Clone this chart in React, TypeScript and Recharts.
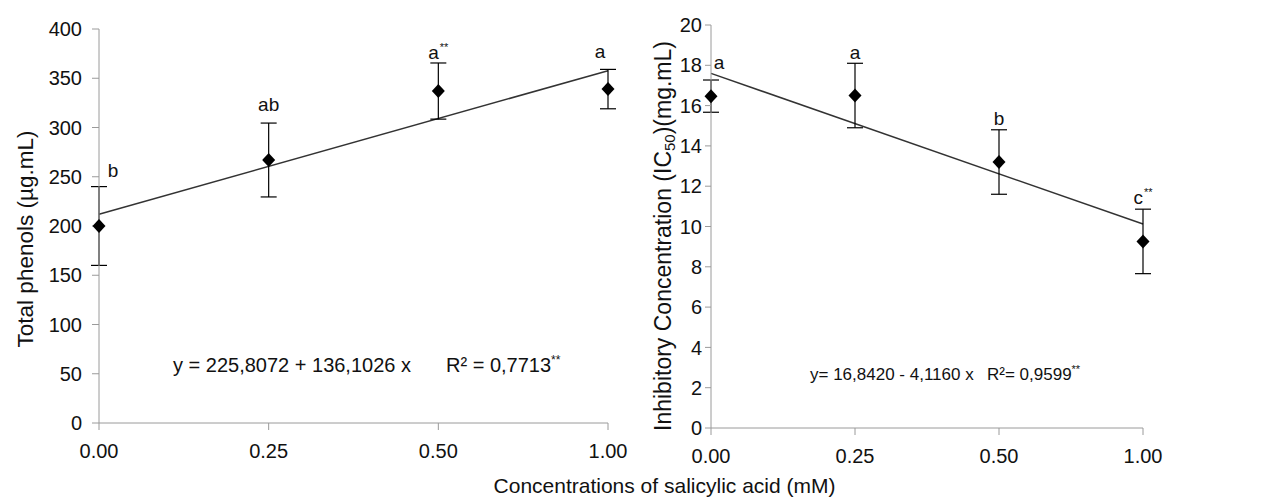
import React from 'react';
import {
  ComposedChart,
  XAxis,
  YAxis,
  Scatter,
  ErrorBar,
  ReferenceLine,
  ReferenceDot,
} from 'recharts';

// salicylic acid doses (mM), plotted as evenly spaced categories
const concentrations = ['0.00', '0.25', '0.50', '1.00'];

// left panel: total phenols
const phenolMeans = [200, 267, 337, 339];
const phenolErrors = [40, 37.5, 28.5, 20];
const phenolLetters = ['b', 'ab', 'a', 'a'];
const phenolStars = ['', '', '**', ''];
const phenolTrend = [212, 357.7];
const phenolTicks = [0, 50, 100, 150, 200, 250, 300, 350, 400];

// right panel: IC50
const icMeans = [16.47, 16.5, 13.2, 9.26];
const icErrors = [0.8, 1.6, 1.6, 1.6];
const icLetters = ['a', 'a', 'b', 'c'];
const icStars = ['', '', '', '**'];
const icTrend = [17.6, 10.12];
const icTicks = [0, 2, 4, 6, 8, 10, 12, 14, 16, 18, 20];

const FONT = '"Liberation Sans", Arial, sans-serif';
const AXIS_GREY = '#9a9a9a';

const buildRows = (means: number[], errors: number[], letters: string[], stars: string[]) =>
  concentrations.map((conc, i) => ({
    conc,
    mean: means[i],
    err: errors[i],
    top: means[i] + errors[i],
    letter: letters[i],
    stars: stars[i],
  }));

const phenolRows = buildRows(phenolMeans, phenolErrors, phenolLetters, phenolStars);
const icRows = buildRows(icMeans, icErrors, icLetters, icStars);

const Diamond = (props: any) => {
  const { cx, cy } = props;
  if (cx == null || cy == null) return null;
  return (
    <polygon
      points={`${cx},${cy - 7} ${cx + 6.5},${cy} ${cx},${cy + 7} ${cx - 6.5},${cy}`}
      fill="#000"
    />
  );
};

const Nothing = () => <g />;

// significance letter sitting above the error bar
const letterLabel = (letter: string, stars: string, dx: number, dy: number) => (props: any) => {
  const vb = props.viewBox || {};
  const x = vb.x + (vb.width || 0) / 2 + dx;
  const y = vb.y + (vb.height || 0) / 2 - 6 + dy;
  return (
    <text x={x} y={y} textAnchor="middle" fontFamily={FONT} fontSize={19} fill="#111">
      {letter}
      {stars && (
        <tspan dx={1} dy={-8} fontSize={11}>
          {stars}
        </tspan>
      )}
    </text>
  );
};

interface PanelProps {
  rows: ReturnType<typeof buildRows>;
  trend: number[];
  ticks: number[];
  width: number;
  margin: { top: number; right: number; left: number; bottom: number };
  yWidth: number;
  xHeight: number;
  yTickSize: number;
  yTickMargin: number;
  tickFont: number;
  letterDx: number[];
  letterDy: number[];
  children?: React.ReactNode;
}

const Panel = ({
  rows,
  trend,
  ticks,
  width,
  margin,
  yWidth,
  xHeight,
  yTickSize,
  yTickMargin,
  tickFont,
  letterDx,
  letterDy,
  children,
}: PanelProps) => {
  const domain = [ticks[0], ticks[ticks.length - 1]];
  return (
    <ComposedChart width={width} height={498} data={rows} margin={margin}>
      <XAxis
        dataKey="conc"
        type="category"
        scale="point"
        padding={{ left: 0, right: 0 }}
        height={xHeight}
        tickSize={7}
        tickMargin={14}
        stroke={AXIS_GREY}
        tick={{ fill: '#111', fontSize: tickFont, fontFamily: FONT }}
      />
      <YAxis
        yAxisId="main"
        type="number"
        domain={domain}
        ticks={ticks}
        width={yWidth}
        tickSize={yTickSize}
        tickMargin={yTickMargin}
        stroke={AXIS_GREY}
        tick={{ fill: '#111', fontSize: tickFont, fontFamily: FONT }}
        interval={0}
      />
      {/* same scale, only used to clip the error bars to the plot area */}
      <YAxis
        yAxisId="clip"
        orientation="right"
        width={0}
        type="number"
        domain={domain}
        hide
        allowDataOverflow
      />
      <ReferenceLine
        yAxisId="main"
        segment={[
          { x: concentrations[0], y: trend[0] },
          { x: concentrations[concentrations.length - 1], y: trend[1] },
        ]}
        stroke="#333"
        strokeWidth={1.5}
      />
      <Scatter yAxisId="clip" dataKey="mean" shape={<Nothing />} isAnimationActive={false}>
        <ErrorBar dataKey="err" direction="y" width={8} stroke="#000" strokeWidth={1.2} />
      </Scatter>
      <Scatter yAxisId="main" dataKey="mean" shape={<Diamond />} isAnimationActive={false} />
      {rows.map((r, i) => (
        <ReferenceDot
          key={r.conc}
          yAxisId="main"
          x={r.conc}
          y={r.top}
          r={0}
          fill="none"
          stroke="none"
          label={letterLabel(r.letter, r.stars, letterDx[i], letterDy[i])}
        />
      ))}
      {children}
    </ComposedChart>
  );
};

export default function App() {
  return (
    <div style={{ position: 'relative', width: 1263, height: 498, background: '#fff', fontFamily: FONT }}>
      <style>{'body{margin:0}'}</style>
      <div style={{ position: 'absolute', left: 0, top: 0 }}>
        <Panel
          rows={phenolRows}
          trend={phenolTrend}
          ticks={phenolTicks}
          width={640}
          margin={{ top: 29, right: 32, left: 0, bottom: 0 }}
          yWidth={99}
          xHeight={75}
          yTickSize={7}
          yTickMargin={10}
          tickFont={20}
          letterDx={[14, 0, 0, -8]}
          letterDy={[-4, -6, 2, -5]}
        >
          <text
            x={33}
            y={239}
            transform="rotate(-90 33 239)"
            textAnchor="middle"
            fontFamily={FONT}
            fontSize={22.5}
            fill="#111"
          >
            Total phenols  (µg.mL)
          </text>
          <text x={173} y={372} fontFamily={FONT} fontSize={20} fill="#111">
            y = 225,8072 + 136,1026 x
          </text>
          <text x={446} y={372} fontFamily={FONT} fontSize={20} fill="#111">
            R² = 0,7713
            <tspan dy={-8} fontSize={12}>**</tspan>
          </text>
        </Panel>
      </div>
      <div style={{ position: 'absolute', left: 620, top: 0 }}>
        <Panel
          rows={icRows}
          trend={icTrend}
          ticks={icTicks}
          width={643}
          margin={{ top: 25, right: 120, left: 0, bottom: 0 }}
          yWidth={91}
          xHeight={70}
          yTickSize={6}
          yTickMargin={3}
          tickFont={20}
          letterDx={[8, 0, 0, 0]}
          letterDy={[-5, 2, 1, 1]}
        >
          <text
            x={51}
            y={236}
            transform="rotate(-90 51 236)"
            textAnchor="middle"
            fontFamily={FONT}
            fontSize={23}
            fill="#111"
          >
            Inhibitory  Concentration  (IC
            <tspan fontSize={15} dy={4}>50</tspan>
            <tspan dy={-4}>)(mg.mL)</tspan>
          </text>
          <text x={190} y={380} fontFamily={FONT} fontSize={17} fill="#111">
            y= 16,8420 - 4,1160 x
          </text>
          <text x={367} y={380} fontFamily={FONT} fontSize={17} fill="#111">
            R²= 0,9599
            <tspan dy={-7} fontSize={11}>**</tspan>
          </text>
        </Panel>
      </div>
      <div
        style={{
          position: 'absolute',
          left: 0,
          width: 1263,
          top: 474,
          textAlign: 'center',
          fontSize: 21,
          color: '#111',
          paddingLeft: 66,
          boxSizing: 'border-box',
        }}
      >
        Concentrations of salicylic acid (mM)
      </div>
    </div>
  );
}
